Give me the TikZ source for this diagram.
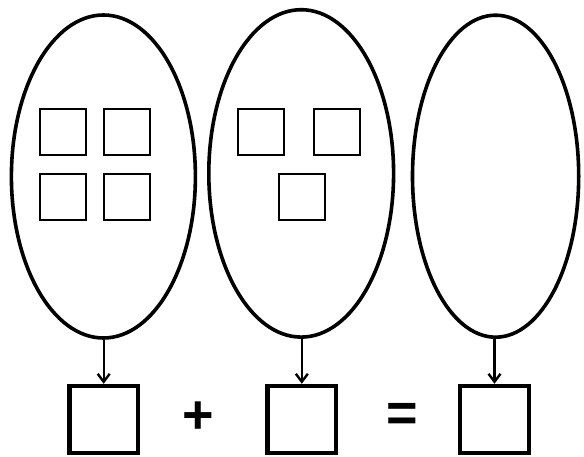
\documentclass[tikz,border=0pt]{standalone}
\usepackage{fontspec}
\setmainfont{Liberation Sans}
\usetikzlibrary{shapes.geometric,arrows.meta}
\begin{document}
\begin{tikzpicture}[x=1pt,y=-1pt,
  group/.style={draw,ellipse,line width=3.6pt,inner sep=0pt},
  item/.style={draw,rectangle,line width=2.4pt,minimum size=46pt,inner sep=0pt},
  answer/.style={draw,rectangle,line width=4.4pt,minimum width=68.7pt,minimum height=67pt,inner sep=0pt},
  sign/.style={inner sep=0pt,font=\fontsize{54}{60}\selectfont\bfseries},
  arr/.style={line width=2.4pt,-{Straight Barb[length=8pt,width=12pt,line width=2.4pt]}}]
\useasboundingbox (0,0) rectangle (584,457);
% groups
\node[group,minimum width=184pt,minimum height=323pt] (e1) at (103.4,176.5) {};
\node[group,minimum width=184.8pt,minimum height=327.4pt] (e2) at (301.2,173.4) {};
\node[group,minimum width=166.2pt,minimum height=322pt] (e3) at (495.6,176.2) {};
% items in group 1
\node[item] (a1) at (62.8,132.3) {};
\node[item] (a2) at (126.8,132.3) {};
\node[item] (a3) at (62.8,197) {};
\node[item] (a4) at (126.8,197) {};
% items in group 2
\node[item] (c1) at (261.2,132.3) {};
\node[item] (c2) at (336.8,132.3) {};
\node[item] (c3) at (302,197) {};
% answer boxes
\node[answer] (b1) at (103.7,419.5) {};
\node[answer] (b2) at (301.8,419.5) {};
\node[answer] (b3) at (494.5,419.5) {};
% signs
\node[sign] (plus) at (198.2,417.8) {+};
\node[sign] (eq) at (401.8,417.7) {=};
% arrows
\draw[arr] (e1.south -| b1.north) -- (b1.north);
\draw[arr] (e2.south -| b2.north) -- (b2.north);
\draw[arr] (e3.south -| b3.north) -- (b3.north);
\end{tikzpicture}
\end{document}
